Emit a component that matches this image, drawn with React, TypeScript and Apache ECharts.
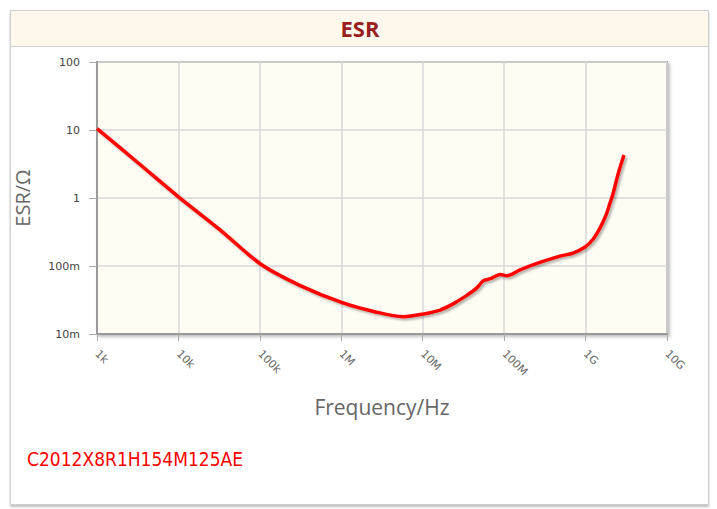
import React, { useEffect, useRef } from "react";
import * as echarts from "echarts";

const partNumber = "C2012X8R1H154M125AE";
const chartTitle = "ESR";
const xAxisName = "Frequency/Hz";
const yAxisName = "ESR/Ω";

// frequency (Hz)
const freqHz = [
  1000, 3180, 10000, 32400, 102000, 309000, 1.05e6, 2.57e6, 5.75e6, 1.0e7,
  1.63e7, 2.33e7, 3.48e7, 4.66e7, 5.52e7, 6.76e7, 9.0e7, 1.08e8, 1.57e8,
  2.75e8, 4.85e8, 7.01e8, 9.85e8, 1.23e9, 1.5e9, 1.78e9, 2.0e9, 2.11e9,
  2.23e9, 2.52e9, 2.96e9,
];
// ESR (ohm)
const esrOhm = [
  10.5, 3.3, 1.04, 0.34, 0.107, 0.052, 0.0286, 0.0213, 0.018, 0.0196,
  0.0225, 0.0275, 0.037, 0.048, 0.0605, 0.065, 0.075, 0.072, 0.088,
  0.113, 0.14, 0.155, 0.19, 0.245, 0.36, 0.56, 0.85, 1.03,
  1.3, 2.3, 4.3,
];

const xTickLabels: Record<string, string> = {
  "1000": "1k",
  "10000": "10k",
  "100000": "100k",
  "1000000": "1M",
  "10000000": "10M",
  "100000000": "100M",
  "1000000000": "1G",
  "10000000000": "10G",
};
const yTickLabels: Record<string, string> = {
  "0.01": "10m",
  "0.1": "100m",
  "1": "1",
  "10": "10",
  "100": "100",
};

function fmt(map: Record<string, string>, v: number) {
  const key = String(Number(v.toPrecision(6)));
  return map[key] ?? "";
}

export default function App() {
  const ref = useRef<HTMLDivElement>(null);
  useEffect(() => {
    if (!ref.current) return;
    const chart = echarts.init(ref.current, undefined, { renderer: "svg" });
    const data = freqHz.map((f, i) => [f, esrOhm[i]]);
    chart.setOption({
      animation: false,
      backgroundColor: "#ffffff",
      textStyle: { fontFamily: "DejaVu Sans" },
      graphic: [
        {
          type: "rect",
          z: -10,
          shape: { x: 10.5, y: 10.5, width: 698, height: 494 },
          style: {
            fill: "#ffffff",
            stroke: "#cfcfcf",
            lineWidth: 1,
            shadowColor: "rgba(0,0,0,0.25)",
            shadowOffsetX: 0,
            shadowOffsetY: 2,
            shadowBlur: 2,
          },
        },
        {
          type: "rect",
          z: -9,
          shape: { x: 10.5, y: 10.5, width: 698, height: 36 },
          style: { fill: "#fdf8eb", stroke: "#cfcfcf", lineWidth: 1 },
        },
        {
          type: "text",
          x: 360,
          y: 28,
          style: {
            text: chartTitle,
            fill: "#9a1f1f",
            align: "center",
            verticalAlign: "middle",
            font: "bold 22px 'Open Sans', 'DejaVu Sans', sans-serif",
          },
        },
        {
          type: "text",
          x: 27,
          y: 459,
          style: {
            text: partNumber,
            fill: "#ff0000",
            verticalAlign: "middle",
            font: "19px 'DejaVu Sans Condensed', 'DejaVu Sans', sans-serif",
          },
        },
      ],
      grid: {
        left: 97,
        top: 62,
        right: 50,
        bottom: 175,
        show: true,
        backgroundColor: "#fffcf3",
        borderColor: "#9a9a9a",
        borderWidth: 2,
        shadowColor: "rgba(0,0,0,0.25)",
        shadowBlur: 3,
        shadowOffsetX: 2,
        shadowOffsetY: 2,
      },
      xAxis: {
        type: "log",
        logBase: 10,
        min: 1000,
        max: 1e10,
        name: xAxisName,
        nameLocation: "middle",
        nameGap: 62,
        nameTextStyle: {
          color: "#666666",
          fontSize: 21,
          fontFamily: "'Open Sans', 'DejaVu Sans', sans-serif",
        },
        axisLine: { lineStyle: { color: "#9a9a9a", width: 2 } },
        axisTick: { show: true, length: 7, lineStyle: { color: "#aaaaaa" } },
        axisLabel: {
          rotate: -45,
          margin: 18,
          color: "#666666",
          fontSize: 11,
          formatter: (v: number) => fmt(xTickLabels, v),
        },
        splitLine: { show: true, lineStyle: { color: "#d9d9d9", width: 1.5 } },
        minorTick: { show: false },
      },
      yAxis: {
        type: "log",
        logBase: 10,
        min: 0.01,
        max: 100,
        name: yAxisName,
        nameLocation: "middle",
        nameGap: 65,
        nameRotate: 90,
        nameTextStyle: {
          color: "#666666",
          fontSize: 20,
          fontFamily: "'Open Sans', 'DejaVu Sans', sans-serif",
        },
        axisLine: { show: true, lineStyle: { color: "#9a9a9a", width: 2 } },
        axisTick: { show: true, length: 8, lineStyle: { color: "#aaaaaa" } },
        axisLabel: {
          margin: 17,
          color: "#444444",
          fontSize: 11,
          formatter: (v: number) => fmt(yTickLabels, v),
        },
        splitLine: { show: true, lineStyle: { color: "#d9d9d9", width: 1.5 } },
      },
      series: [
        {
          type: "line",
          data,
          smooth: 0.3,
          showSymbol: false,
          symbol: "none",
          lineStyle: {
            color: "#ff0000",
            width: 3.5,
            shadowColor: "rgba(0,0,0,0.3)",
            shadowBlur: 2,
            shadowOffsetX: 2,
            shadowOffsetY: 2,
          },
        },
      ],
    });
    return () => chart.dispose();
  }, []);
  return (
    <div
      ref={ref}
      style={{ position: "absolute", left: 0, top: 0, width: 717, height: 509 }}
    />
  );
}
